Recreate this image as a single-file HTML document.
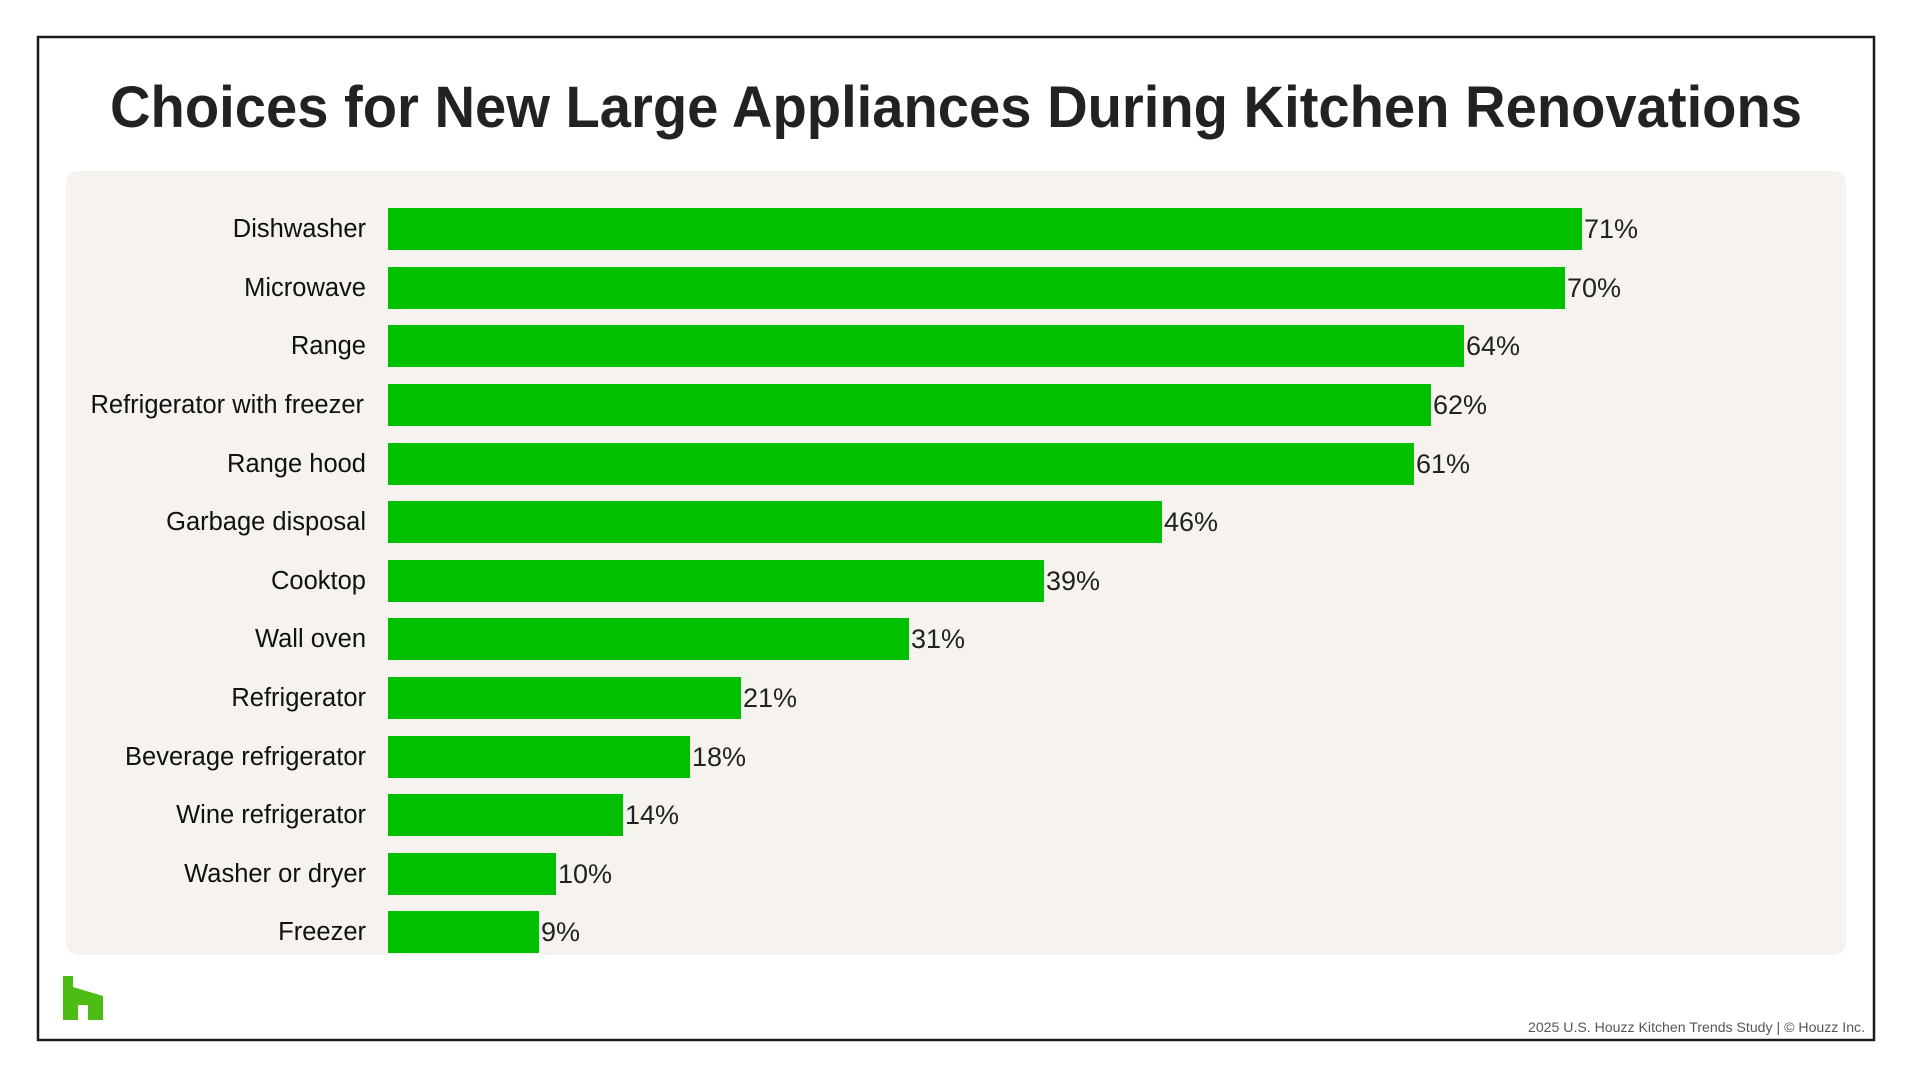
<!DOCTYPE html>
<html><head><meta charset="utf-8"><style>
html,body{margin:0;padding:0;background:#fff;}
svg{display:block;}
</style></head><body>
<svg width="1912" height="1078" viewBox="0 0 1912 1078" xmlns="http://www.w3.org/2000/svg" font-family="Liberation Sans, sans-serif">
<rect x="0" y="0" width="1912" height="1078" fill="#fff"/>
<rect x="38" y="37" width="1836" height="1003" fill="none" stroke="#1a1a1a" stroke-width="2.5"/>
<text x="956" y="127" text-anchor="middle" font-size="58" font-weight="bold" fill="#222" textLength="1692" lengthAdjust="spacingAndGlyphs">Choices for New Large Appliances During Kitchen Renovations</text>
<rect x="66" y="171" width="1780" height="784" rx="12" fill="#f6f3ef"/>
<g fill="#00c000">
<rect x="388" y="208" width="1194" height="42"/>
<rect x="388" y="267" width="1177" height="42"/>
<rect x="388" y="325" width="1076" height="42"/>
<rect x="388" y="384" width="1043" height="42"/>
<rect x="388" y="443" width="1026" height="42"/>
<rect x="388" y="501" width="774" height="42"/>
<rect x="388" y="560" width="656" height="42"/>
<rect x="388" y="618" width="521" height="42"/>
<rect x="388" y="677" width="353" height="42"/>
<rect x="388" y="736" width="302" height="42"/>
<rect x="388" y="794" width="235" height="42"/>
<rect x="388" y="853" width="168" height="42"/>
<rect x="388" y="911" width="151" height="42"/>
</g>
<g font-size="25.5" fill="#111" text-anchor="end">
<text x="366" y="237">Dishwasher</text>
<text x="366" y="296">Microwave</text>
<text x="366" y="354">Range</text>
<text x="364" y="413">Refrigerator with freezer</text>
<text x="366" y="472">Range hood</text>
<text x="366" y="530">Garbage disposal</text>
<text x="366" y="589">Cooktop</text>
<text x="366" y="647">Wall oven</text>
<text x="366" y="706">Refrigerator</text>
<text x="366" y="765">Beverage refrigerator</text>
<text x="366" y="823">Wine refrigerator</text>
<text x="366" y="882">Washer or dryer</text>
<text x="366" y="940">Freezer</text>
</g>
<g font-size="27" fill="#222">
<text x="1584" y="238">71%</text>
<text x="1567" y="297">70%</text>
<text x="1466" y="355">64%</text>
<text x="1433" y="414">62%</text>
<text x="1416" y="473">61%</text>
<text x="1164" y="531">46%</text>
<text x="1046" y="590">39%</text>
<text x="911" y="648">31%</text>
<text x="743" y="707">21%</text>
<text x="692" y="766">18%</text>
<text x="625" y="824">14%</text>
<text x="558" y="883">10%</text>
<text x="541" y="941">9%</text>
</g>
<path d="M63 976 H73 V987 L103 996 V1020 H88 V1005 H78 V1020 H63 Z" fill="#4dbc15"/>
<text x="1865" y="1032" text-anchor="end" font-size="13.5" fill="#555" textLength="337" lengthAdjust="spacingAndGlyphs">2025 U.S. Houzz Kitchen Trends Study  |  © Houzz Inc.</text>
</svg>
</body></html>
